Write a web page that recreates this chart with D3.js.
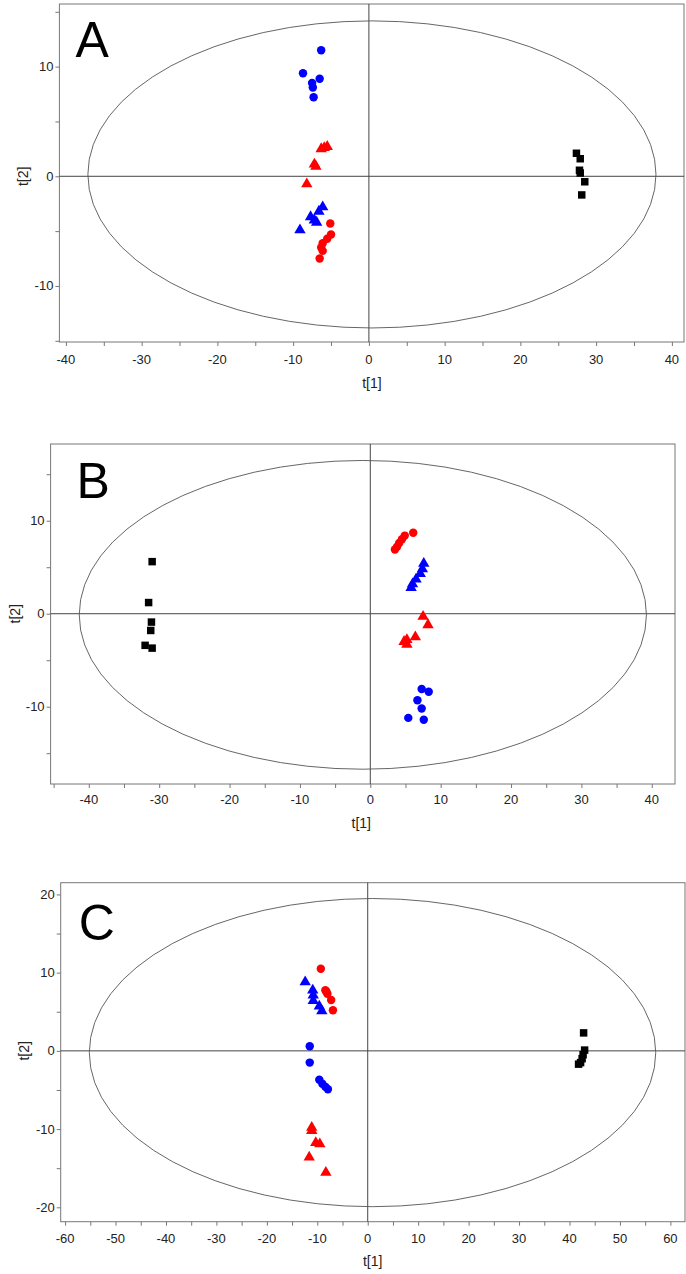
<!DOCTYPE html>
<html>
<head>
<meta charset="utf-8">
<script src="https://cdn.jsdelivr.net/npm/d3@7"></script>
<style>
  body { margin: 0; background: #fff; }
  svg { display: block; font-family: "Liberation Sans", Arial, sans-serif; }
</style>
</head>
<body>
<div id="chart-area"></div>
<script>
// ---- data (t[1], t[2] scores) ----
var aBlueCircles = [[-6.3, 11.5], [-8.7, 9.4], [-6.5, 8.9], [-7.5, 8.5], [-7.4, 8.1], [-7.3, 7.2]];
var aRedTriangles = [[-6.3, 2.5], [-5.9, 2.6], [-5.5, 2.7], [-7.2, 1.1], [-7.0, 0.9], [-8.2, -0.7]];
var aBlueTriangles = [[-6.1, -2.8], [-6.6, -3.2], [-7.7, -3.7], [-7.2, -4.0], [-6.9, -4.2], [-9.1, -4.9]];
var aRedCircles = [[-5.1, -4.3], [-5.0, -5.3], [-5.5, -5.7], [-6.1, -6.1], [-6.3, -6.5], [-6.1, -6.8], [-6.5, -7.5]];
var aBlackSquares = [[27.4, 2.1], [27.9, 1.6], [27.8, 0.55], [27.9, 0.3], [28.5, -0.5], [28.1, -1.7]];

var bRedCircles = [[6.1, 8.7], [4.9, 8.4], [4.5, 8.0], [4.1, 7.6], [3.8, 7.2], [3.5, 6.9]];
var bBlueTriangles = [[7.6, 5.4], [7.4, 4.8], [7.1, 4.3], [6.5, 3.7], [6.0, 3.2], [5.8, 2.8]];
var bRedTriangles = [[7.5, -0.3], [8.2, -1.2], [6.4, -2.5], [5.2, -2.8], [5.2, -3.3], [4.8, -3.0]];
var bBlueCircles = [[7.3, -8.1], [8.3, -8.4], [6.7, -9.3], [7.3, -10.2], [5.4, -11.2], [7.6, -11.4]];
var bBlackSquares = [[-31.0, 5.6], [-31.5, 1.2], [-31.1, -0.9], [-31.2, -1.8], [-32.0, -3.4], [-31.0, -3.7]];

var cRedCircles = [[-9.3, 10.5], [-8.4, 7.75], [-8.2, 7.6], [-8.0, 7.3], [-7.25, 6.5], [-6.9, 5.2]];
var cBlueTriangles = [[-12.4, 8.8], [-10.9, 7.75], [-10.8, 7.1], [-10.8, 6.4], [-9.6, 5.7], [-9.1, 5.1]];
var cBlueCircles = [[-11.5, 0.6], [-11.5, -1.5], [-9.6, -3.7], [-9.0, -4.2], [-8.4, -4.6], [-7.9, -4.9]];
var cRedTriangles = [[-11.1, -9.8], [-11.1, -10.2], [-10.3, -11.75], [-9.5, -11.9], [-11.6, -13.6], [-8.3, -15.55]];
var cBlackSquares = [[42.8, 2.3], [43.0, 0.1], [42.7, -0.5], [42.5, -1.0], [42.2, -1.5], [41.8, -1.7]];

// Hotelling T2 ellipses: [cx, cy, rx, ry]
var aEllipse = [0.4, 0.17, 37.5, 14.0];
var bEllipse = [-1.06, -0.12, 40.3, 16.6];
var cEllipse = [0.95, -0.22, 56.15, 19.7];

// tick values
var abXTicks = [-40, -30, -20, -10, 0, 10, 20, 30, 40];
var cXTicks = [-60, -50, -40, -30, -20, -10, 0, 10, 20, 30, 40, 50, 60];
var abYTicks = [-10, 0, 10];
var cYTicks = [-20, -10, 0, 10, 20];

var blue = '#0000ff', red = '#ff0000', black = '#000000';

var panels = [
  {
    letter: 'A', left: 59.4, right: 684, top: 4, bottom: 342,
    xDomain: [-40.86, 41.6], yDomain: [-15.11, 15.71],
    xTicks: abXTicks, yTicks: abYTicks, ellipse: aEllipse,
    letterX: 16, letterY: 53, titleX: 36, tickY: 22, labelY: 46, labelShift: 3,
    series: [
      { data: aBlueCircles, shape: d3.symbolCircle, color: blue },
      { data: aRedTriangles, shape: d3.symbolTriangle, color: red },
      { data: aBlueTriangles, shape: d3.symbolTriangle, color: blue },
      { data: aRedCircles, shape: d3.symbolCircle, color: red },
      { data: aBlackSquares, shape: d3.symbolSquare, color: black }
    ]
  },
  {
    letter: 'B', left: 50.6, right: 675, top: 444, bottom: 784,
    xDomain: [-45.43, 43.3], yDomain: [-18.31, 18.25],
    xTicks: abXTicks, yTicks: abYTicks, ellipse: bEllipse,
    letterX: 26, letterY: 54, titleX: 36, tickY: 20, labelY: 44, labelShift: -9,
    series: [
      { data: bRedCircles, shape: d3.symbolCircle, color: red },
      { data: bBlueTriangles, shape: d3.symbolTriangle, color: blue },
      { data: bRedTriangles, shape: d3.symbolTriangle, color: red },
      { data: bBlueCircles, shape: d3.symbolCircle, color: blue },
      { data: bBlackSquares, shape: d3.symbolSquare, color: black }
    ]
  },
  {
    letter: 'C', left: 60.7, right: 685, top: 882.7, bottom: 1221.7,
    xDomain: [-60.87, 62.9], yDomain: [-21.84, 21.5],
    xTicks: cXTicks, yTicks: cYTicks, ellipse: cEllipse,
    letterX: 18, letterY: 57, titleX: 37, tickY: 21, labelY: 44, labelShift: 5,
    series: [
      { data: cRedCircles, shape: d3.symbolCircle, color: red },
      { data: cBlueTriangles, shape: d3.symbolTriangle, color: blue },
      { data: cBlueCircles, shape: d3.symbolCircle, color: blue },
      { data: cRedTriangles, shape: d3.symbolTriangle, color: red },
      { data: cBlackSquares, shape: d3.symbolSquare, color: black }
    ]
  }
];

var svg = d3.select('#chart-area')
  .append('svg')
  .attr('width', 686)
  .attr('height', 1274);

var sizes = {};
sizes[d3.symbolCircle] = 62;
sizes[d3.symbolTriangle] = 54;
sizes[d3.symbolSquare] = 56;

panels.forEach(function(p) {
  var g = svg.append('g');

  var x = d3.scaleLinear().domain(p.xDomain).range([p.left, p.right]);
  var y = d3.scaleLinear().domain(p.yDomain).range([p.bottom, p.top]);

  // minor ticks every 5
  var xMinor = d3.range(Math.ceil(p.xDomain[0] / 5) * 5, p.xDomain[1], 5);
  var yMinor = d3.range(Math.ceil(p.yDomain[0] / 5) * 5, p.yDomain[1], 5);

  // X axis
  var xAxis = g.append('g')
    .attr('transform', 'translate(0,' + p.bottom + ')')
    .call(d3.axisBottom(x).tickValues(xMinor).tickSize(4).tickFormat(''));
  xAxis.select('.domain').remove();
  xAxis.selectAll('line').attr('stroke', '#777');
  g.append('g')
    .attr('transform', 'translate(0,' + p.bottom + ')')
    .selectAll('text')
    .data(p.xTicks)
    .enter()
    .append('text')
      .attr('x', function(d) { return x(d); })
      .attr('y', p.tickY)
      .attr('text-anchor', 'middle')
      .attr('font-size', '13px')
      .attr('fill', '#222')
      .text(function(d) { return d; });

  // Y axis
  var yAxis = g.append('g')
    .attr('transform', 'translate(' + p.left + ',0)')
    .call(d3.axisLeft(y).tickValues(yMinor).tickSize(4).tickFormat(''));
  yAxis.select('.domain').remove();
  yAxis.selectAll('line').attr('stroke', '#777');
  g.append('g')
    .selectAll('text')
    .data(p.yTicks)
    .enter()
    .append('text')
      .attr('x', p.left - 6)
      .attr('y', function(d) { return y(d) + 4.5; })
      .attr('text-anchor', 'end')
      .attr('font-size', '13px')
      .attr('fill', '#222')
      .text(function(d) { return d; });

  // frame
  g.append('rect')
    .attr('x', p.left)
    .attr('y', p.top)
    .attr('width', p.right - p.left)
    .attr('height', p.bottom - p.top)
    .attr('fill', 'none')
    .attr('stroke', '#777')
    .attr('stroke-width', 1);

  // zero lines
  g.append('line')
    .attr('x1', x(0)).attr('x2', x(0))
    .attr('y1', p.top).attr('y2', p.bottom)
    .attr('stroke', '#444');
  g.append('line')
    .attr('x1', p.left).attr('x2', p.right)
    .attr('y1', y(0)).attr('y2', y(0))
    .attr('stroke', '#444');

  // ellipse
  var e = p.ellipse;
  g.append('ellipse')
    .attr('cx', x(e[0]))
    .attr('cy', y(e[1]))
    .attr('rx', x(e[2]) - x(0))
    .attr('ry', y(0) - y(e[3]))
    .attr('fill', 'none')
    .attr('stroke', '#555')
    .attr('stroke-width', 0.9);

  // points
  p.series.forEach(function(s) {
    g.append('g')
      .selectAll('path')
      .data(s.data)
      .enter()
      .append('path')
        .attr('d', d3.symbol().type(s.shape).size(sizes[s.shape]))
        .attr('transform', function(d) {
          return 'translate(' + x(d[0]) + ',' + y(d[1]) + ')';
        })
        .attr('fill', s.color);
  });

  // panel letter
  g.append('text')
    .attr('x', p.left + p.letterX)
    .attr('y', p.top + p.letterY)
    .attr('font-size', '50px')
    .attr('fill', '#000')
    .text(p.letter);

  // axis titles
  g.append('text')
    .attr('x', x(0) + p.labelShift)
    .attr('y', p.bottom + p.labelY)
    .attr('text-anchor', 'middle')
    .attr('font-size', '14px')
    .attr('fill', '#222')
    .text('t[1]');

  g.append('text')
    .attr('transform', 'translate(' + (p.left - p.titleX) + ',' + y(0) + ') rotate(-90)')
    .attr('text-anchor', 'middle')
    .attr('dy', '0.35em')
    .attr('font-size', '14px')
    .attr('fill', '#222')
    .text('t[2]');
});
</script>
</body>
</html>
